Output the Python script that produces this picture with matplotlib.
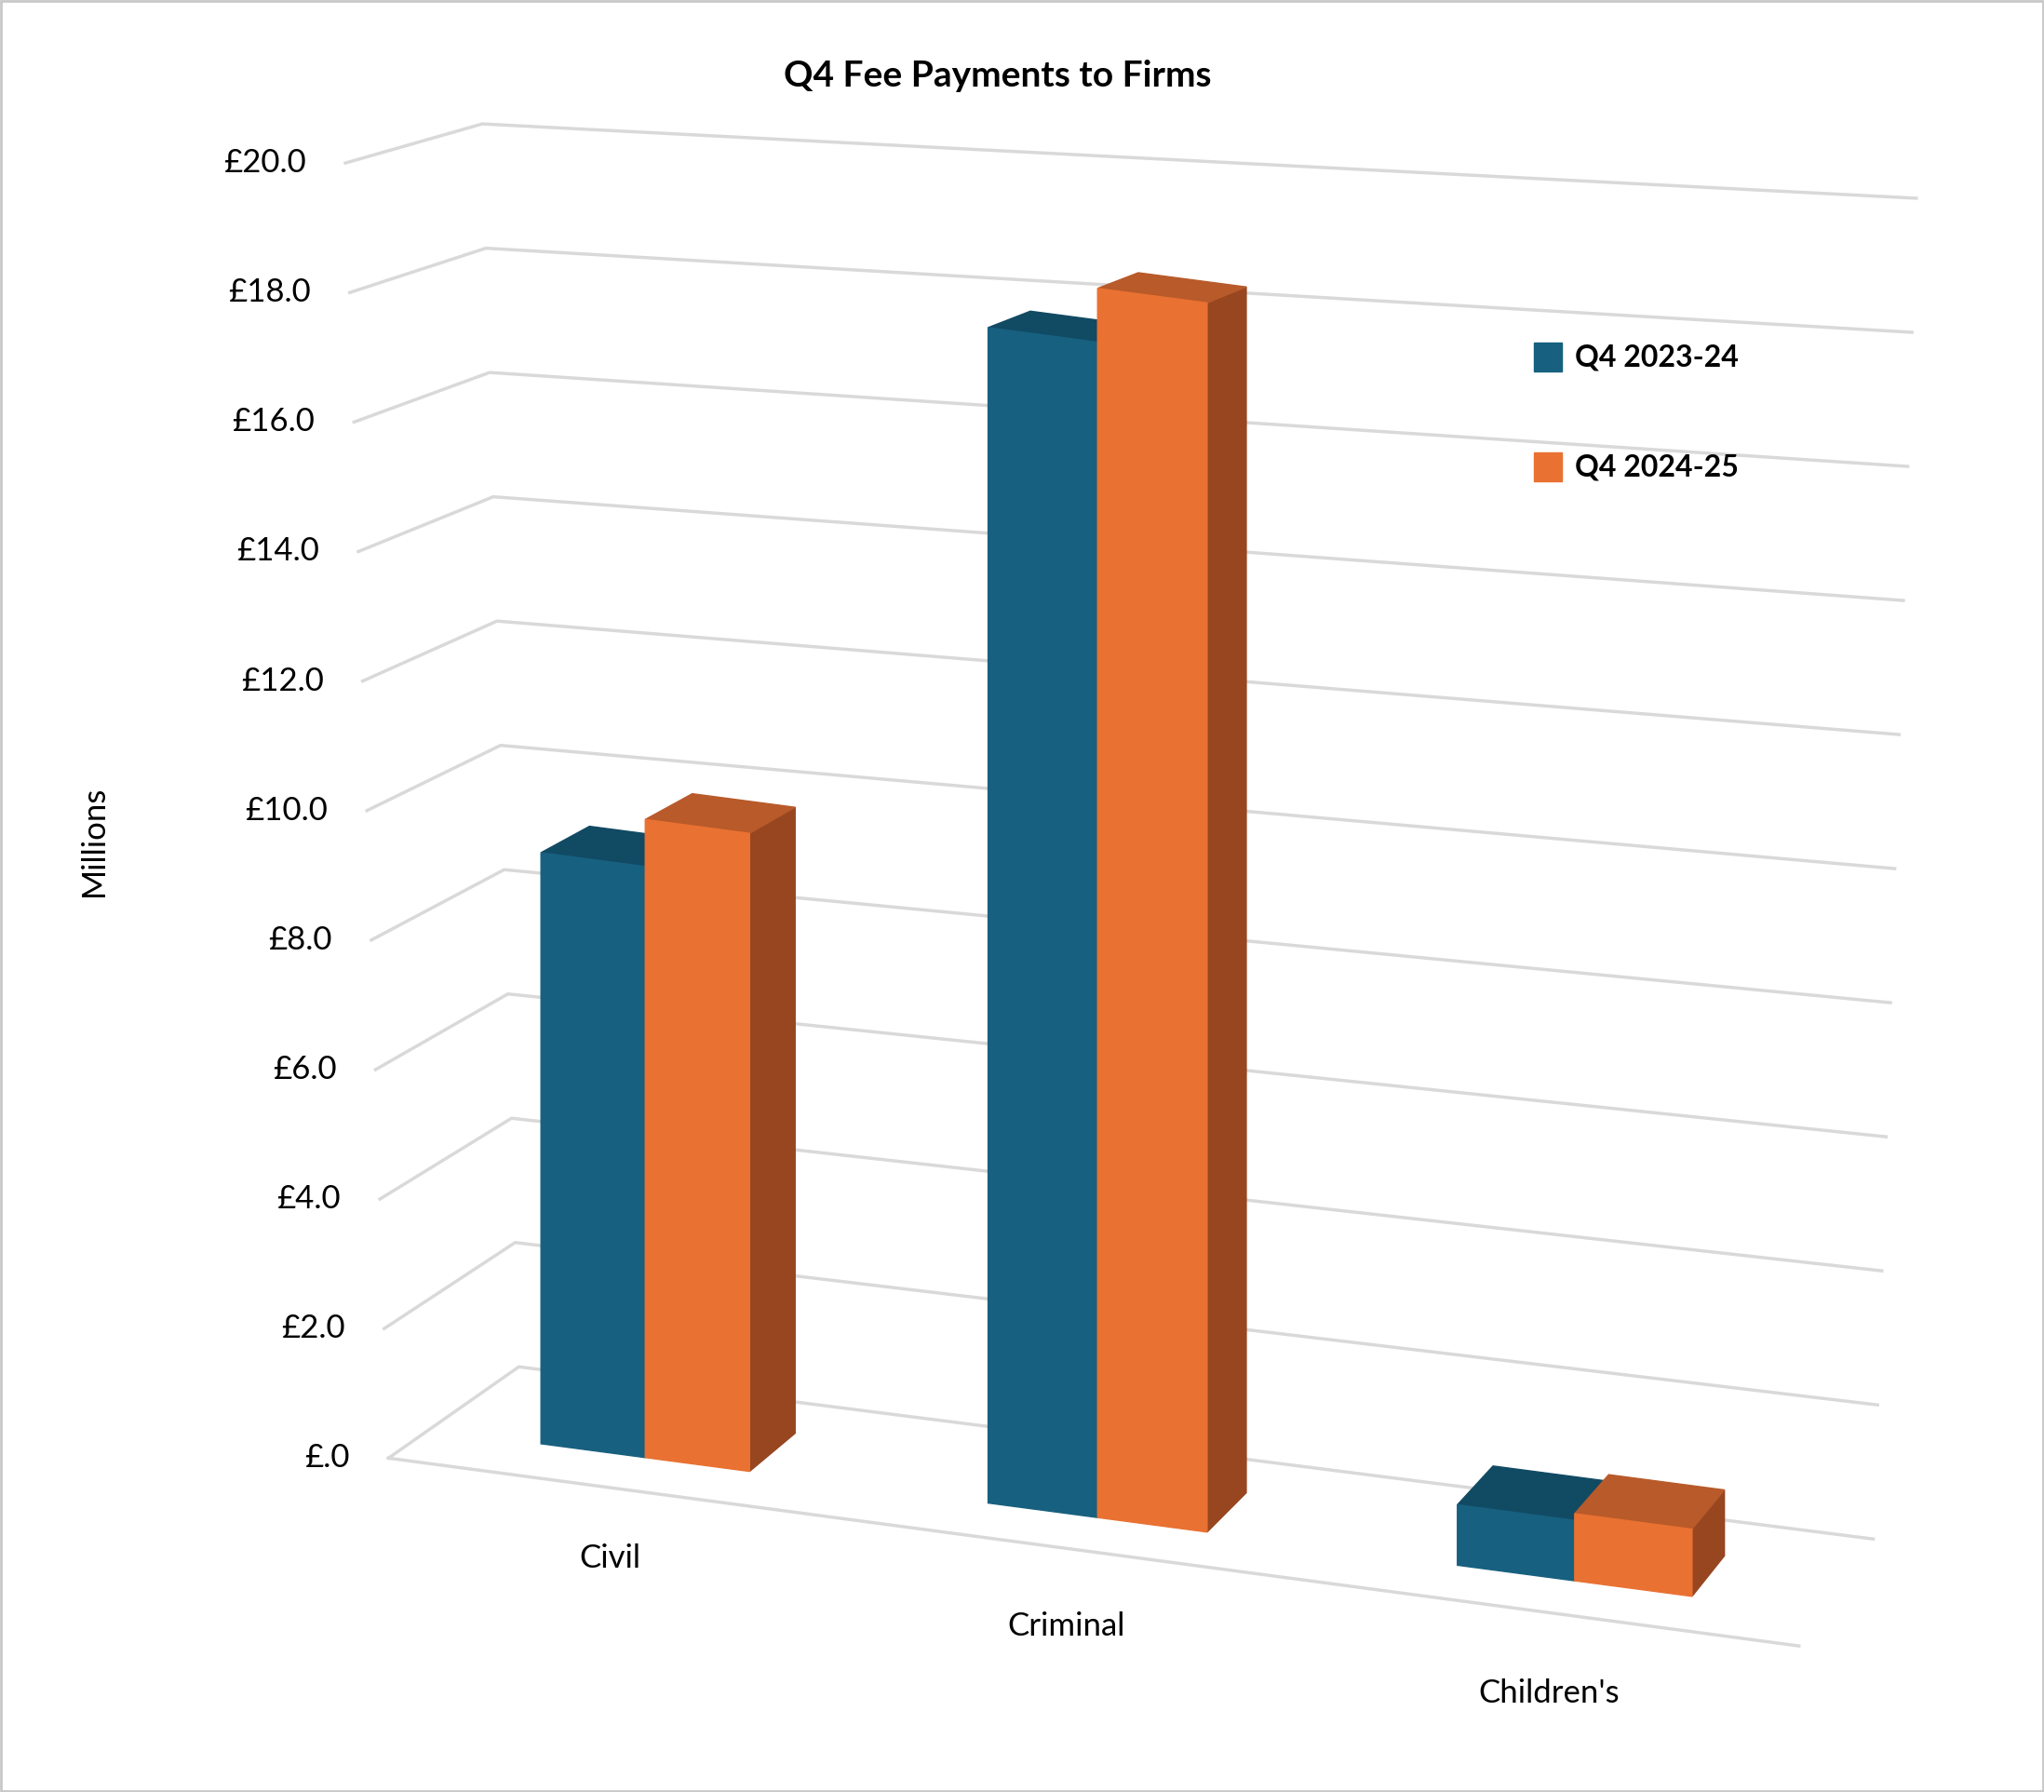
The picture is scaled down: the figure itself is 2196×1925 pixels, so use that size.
import matplotlib
matplotlib.use("Agg")
import matplotlib.pyplot as plt
from matplotlib.patches import Polygon, Rectangle
import numpy as np

categories = ["Civil", "Criminal", "Children's"]
series_names = ["Q4 2023-24", "Q4 2024-25"]
q4_2023_24 = [8.8, 17.5, 0.9]
q4_2024_25 = [9.5, 18.3, 1.0]
tick_values = [0, 2, 4, 6, 8, 10, 12, 14, 16, 18, 20]
tick_labels = ["£.0", "£2.0", "£4.0", "£6.0", "£8.0", "£10.0", "£12.0", "£14.0", "£16.0", "£18.0", "£20.0"]

FONT = "Lato"
fig = plt.figure(figsize=(21.96, 19.25), dpi=100)
ax = fig.add_axes([0, 0, 1, 1])
ax.set_xlim(0, 1568); ax.set_ylim(1374, 0); ax.axis("off")
ax.add_patch(Rectangle((1, 1), 1566, 1372, fill=False, ec="#c8c8c8", lw=2))

# wall geometry (value 0 and value 20 reference points)
L0, C0, R0 = np.array([298, 1118]), np.array([398, 1048]), np.array([1437, 1180])
L20, C20, R20 = np.array([265, 125]), np.array([370, 95]), np.array([1470, 152])
gc = "#d9d9d9"
for v, lab in zip(tick_values, tick_labels):
    t = v / 20
    L = L0 + (L20 - L0) * t; C = C0 + (C20 - C0) * t; R = R0 + (R20 - R0) * t
    ax.plot([L[0], C[0], R[0]], [L[1], C[1], R[1]], color=gc, lw=2.5, zorder=1)
    ax.text(L[0] - 30, L[1], lab, ha="right", va="center", fontsize=25, family=FONT)
ax.plot([298, 1380], [1118, 1262], color=gc, lw=2.5, zorder=1)

k = 51.5
def yb(x):
    return 1052 + 0.1325 * x
def dep(x, y):
    return np.array([43 - 0.014 * x, -12 - (y - 220) * 0.019])

lefts = [415, 758, 1118]
widths = [80, 84, 90]
cols = [("#17607f", "#114a63", "#114a63"), ("#e97132", "#b85a2a", "#974620")]
for ci in range(len(categories)):
    for si, vals in enumerate([q4_2023_24, q4_2024_25]):
        x0 = lefts[ci] + si * widths[ci]; x1 = x0 + widths[ci]
        v = vals[ci]
        BL = np.array([x0, yb(x0)]); BR = np.array([x1, yb(x1)])
        TL = BL - [0, v * k]; TR = BR - [0, v * k]
        front, top, side = cols[si]
        ax.add_patch(Polygon([BR, TR, TR + dep(*TR), BR + dep(*BR)], color=side, zorder=3))
        ax.add_patch(Polygon([TL, TR, TR + dep(*TR), TL + dep(*TL)], color=top, zorder=3))
        ax.add_patch(Polygon([BL, BR, TR, TL], color=front, zorder=4))

cat_pos = [(468, 1195), (818, 1247), (1188, 1298)]
for c, (x, y) in zip(categories, cat_pos):
    ax.text(x, y, c, ha="center", va="center", fontsize=25, family=FONT)

ax.text(72, 645, "Millions", rotation=90, ha="center", va="center", fontsize=25, family=FONT)
ax.text(765, 58, "Q4 Fee Payments to Firms", ha="center", va="center", fontsize=28, weight="bold", family=FONT)

for i, (n, y) in enumerate(zip(series_names, [274, 358])):
    ax.add_patch(Rectangle((1177, y - 11), 21, 22, color=cols[i][0]))
    ax.text(1208, y, n, ha="left", va="center", fontsize=23, weight="bold", family=FONT)

fig.savefig("out.png", dpi=100)
